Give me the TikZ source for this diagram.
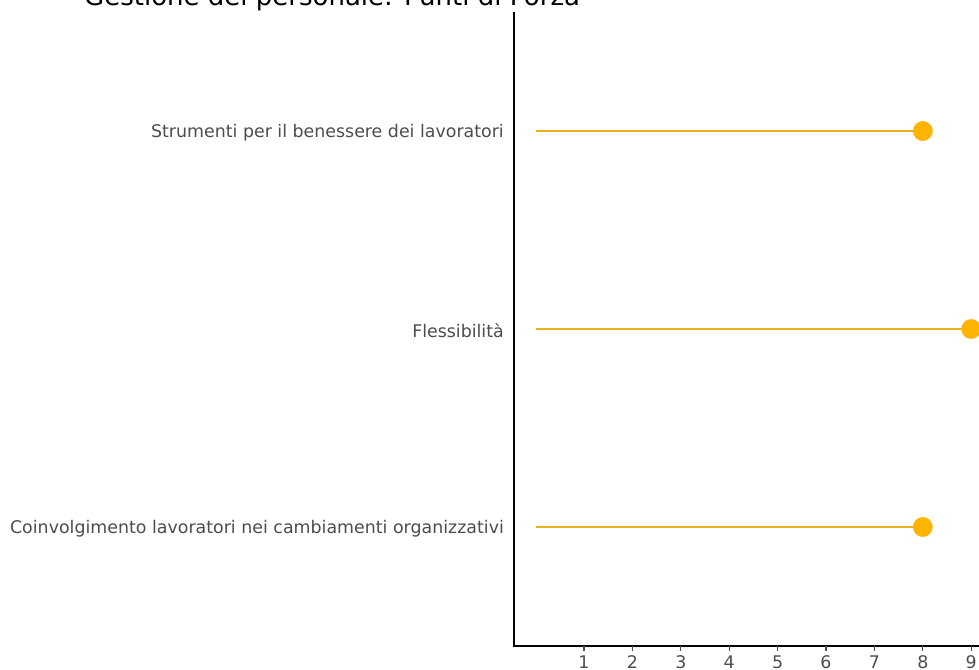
\documentclass[tikz,border=0pt]{standalone}
\usepackage{fontspec}
\setmainfont{DejaVu Sans}
\definecolor{amber}{HTML}{FFB400}
\definecolor{stemc}{HTML}{EBB21E}
\definecolor{axtext}{HTML}{4D4D4D}
\tikzset{
  lbl/.style={anchor=east, inner sep=0pt, text=axtext, font=\fontsize{17.4}{19}\selectfont},
  ticklbl/.style={anchor=base, inner sep=0pt, text=axtext, font=\fontsize{17.4}{19}\selectfont},
  stem/.style={draw=stemc, line width=2pt},
  dot/.style={circle, fill=amber, minimum size=19.5pt, inner sep=0pt},
  axis/.style={draw=black, line width=1.6pt},
  tick/.style={draw=axtext, line width=1.2pt}
}
\begin{document}
\begin{tikzpicture}[x=1pt,y=-1pt]
\useasboundingbox (0,0) rectangle (979,669);
\clip (0,0) rectangle (979,669);
\node[anchor=base west, inner sep=0pt, font=\fontsize{26}{28}\selectfont] (title) at (84,6) {Gestione del personale: Punti di Forza};
% axes
\coordinate (ytop) at (514,12);
\coordinate (orig) at (514,646);
\coordinate (xend) at (980,646);
\draw[axis] (ytop) -- (orig) -- (xend);
% ticks
\foreach \i in {1,...,9}{
  \coordinate (t\i) at ({535.6+48.4*\i},646);
  \coordinate (tb\i) at ({535.6+48.4*\i},651);
  \draw[tick] (t\i) -- (tb\i);
  \node[ticklbl] (tl\i) at ({535.6+48.4*\i},668.5) {\i};
}
% rows
\node[lbl] (l1) at (504,132.5) {Strumenti per il benessere dei lavoratori};
\node[lbl] (l2) at (504,330.5) {Flessibilità};
\node[lbl] (l3) at (504,528.5) {Coinvolgimento lavoratori nei cambiamenti organizzativi};
\coordinate (s1) at (535.6,131);
\coordinate (s2) at (535.6,329);
\coordinate (s3) at (535.6,527);
\node[dot] (d1) at ({535.6+48.4*8},131) {};
\node[dot] (d2) at ({535.6+48.4*9},329) {};
\node[dot] (d3) at ({535.6+48.4*8},527) {};
\draw[stem] (s1) -- (d1.center);
\draw[stem] (s2) -- (d2.center);
\draw[stem] (s3) -- (d3.center);
\node[dot] at (d1) {};
\node[dot] at (d2) {};
\node[dot] at (d3) {};
\end{tikzpicture}
\end{document}
